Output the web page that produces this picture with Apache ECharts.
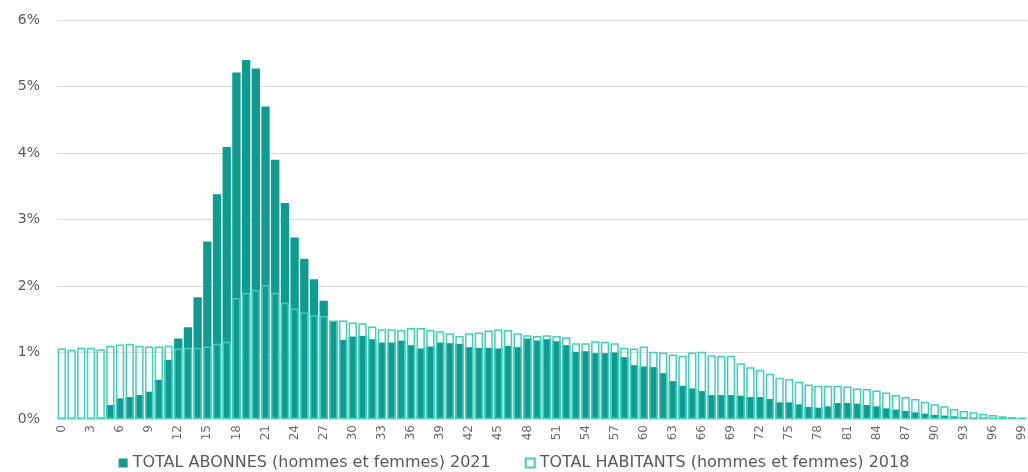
<!DOCTYPE html>
<html>
<head>
<meta charset="utf-8">
<script src="https://cdn.jsdelivr.net/npm/echarts@6/dist/echarts.min.js"></script>
<style>
  html, body { margin: 0; padding: 0; background: #fff; }
  #chart { width: 1028px; height: 472px; }
</style>
</head>
<body>
<div id="chart"></div>
<script>
var ages = [];
for (var a = 0; a <= 99; a++) ages.push(String(a));

// % par âge
var abonnes = [
    0, 0, 0, 0, 0.02, 0.21, 0.31, 0.33, 0.36, 0.41,
    0.59, 0.89, 1.21, 1.38, 1.83, 2.67, 3.38, 4.09, 5.21, 5.40,
    5.27, 4.70, 3.90, 3.25, 2.73, 2.41, 2.10, 1.78, 1.47, 1.19,
    1.24, 1.25, 1.20, 1.15, 1.15, 1.18, 1.11, 1.06, 1.09, 1.15,
    1.14, 1.13, 1.08, 1.07, 1.07, 1.06, 1.10, 1.08, 1.21, 1.18,
    1.20, 1.17, 1.11, 1.01, 1.02, 0.99, 0.99, 1.00, 0.93, 0.81,
    0.79, 0.78, 0.69, 0.57, 0.50, 0.46, 0.42, 0.36, 0.36, 0.36,
    0.35, 0.33, 0.33, 0.30, 0.25, 0.25, 0.22, 0.18, 0.17, 0.19,
    0.24, 0.24, 0.23, 0.21, 0.19, 0.16, 0.14, 0.12, 0.10, 0.08,
    0.06, 0.05, 0.04, 0.03, 0.02, 0.02, 0.01, 0.01, 0.01, 0.01
];
var habitants = [
    1.06, 1.04, 1.07, 1.07, 1.05, 1.10, 1.12, 1.13, 1.10, 1.09,
    1.09, 1.10, 1.06, 1.07, 1.07, 1.09, 1.13, 1.16, 1.82, 1.90,
    1.94, 2.01, 1.90, 1.75, 1.66, 1.60, 1.56, 1.55, 1.48, 1.48,
    1.45, 1.44, 1.39, 1.35, 1.35, 1.34, 1.37, 1.37, 1.34, 1.32,
    1.29, 1.25, 1.29, 1.30, 1.33, 1.35, 1.34, 1.29, 1.26, 1.25,
    1.26, 1.25, 1.23, 1.14, 1.14, 1.17, 1.16, 1.14, 1.07, 1.06,
    1.09, 1.01, 1.00, 0.97, 0.95, 1.00, 1.01, 0.96, 0.95, 0.95,
    0.84, 0.78, 0.74, 0.68, 0.62, 0.60, 0.56, 0.52, 0.50, 0.50,
    0.50, 0.49, 0.46, 0.45, 0.43, 0.40, 0.36, 0.33, 0.30, 0.26,
    0.22, 0.19, 0.15, 0.12, 0.10, 0.08, 0.06, 0.04, 0.03, 0.02
];

option = {
    animation: false,
    grid: {
        left: 57,
        right: 1,
        top: 20,
        bottom: 53
    },
    legend: {
        top: 450,
        left: 'center',
        itemGap: 34,
        itemWidth: 9,
        itemHeight: 9,
        icon: 'rect',
        textStyle: { color: '#595959', fontSize: 16, fontFamily: 'DejaVu Sans' },
        data: ['TOTAL ABONNES (hommes et femmes) 2021', 'TOTAL HABITANTS (hommes et femmes) 2018']
    },
    xAxis: {
        type: 'category',
        data: ages,
        axisLine: { show: false },
        axisTick: { show: false },
        axisLabel: {
            interval: 2,
            rotate: 90,
            margin: 6,
            color: '#6b6b6b',
            fontSize: 12,
            fontFamily: 'DejaVu Sans'
        }
    },
    yAxis: {
        type: 'value',
        min: 0,
        max: 6,
        interval: 1,
        axisLabel: {
            formatter: '{value}%',
            color: '#595959',
            fontSize: 14,
            margin: 17,
            fontFamily: 'DejaVu Sans'
        },
        splitLine: { lineStyle: { color: '#d9d9d9' } }
    },
    series: [
        {
            name: 'TOTAL ABONNES (hommes et femmes) 2021',
            type: 'bar',
            data: abonnes,
            barCategoryGap: '14%',
            barGap: '-100%',
            itemStyle: { color: '#0f9b8f' }
        },
        {
            name: 'TOTAL HABITANTS (hommes et femmes) 2018',
            type: 'bar',
            data: habitants,
            itemStyle: {
                color: 'rgba(0,0,0,0)',
                borderColor: '#3fd0bb',
                borderWidth: 1.5
            }
        }
    ]
};

echarts.init(document.getElementById('chart')).setOption(option);
</script>
</body>
</html>
